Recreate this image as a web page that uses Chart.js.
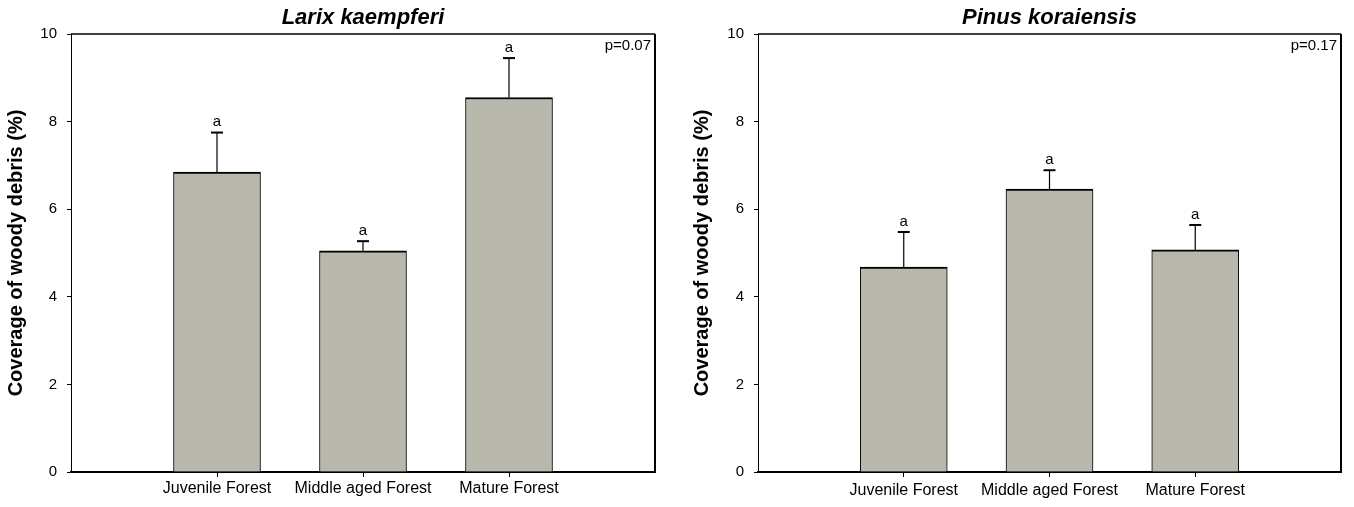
<!DOCTYPE html>
<html>
<head>
<meta charset="utf-8">
<script src="https://cdn.jsdelivr.net/npm/chart.js@4.4.1/dist/chart.umd.min.js"></script>
<style>
  body { margin: 0; background: #fff; }
  #wrap { position: relative; width: 1354px; height: 507px; }
  canvas { position: absolute; top: 0; }
</style>
</head>
<body>
<div id="wrap">
  <canvas id="left" width="680" height="507" style="left:0"></canvas>
  <canvas id="right" width="674" height="507" style="left:680px"></canvas>
</div>
<script>
// data
const categories = ['Juvenile Forest', 'Middle aged Forest', 'Mature Forest'];
const larixMeans = [6.85, 5.05, 8.55];
const larixErrors = [0.9, 0.22, 0.9];
const larixLetters = ['a', 'a', 'a'];
const pinusMeans = [4.68, 6.46, 5.07];
const pinusErrors = [0.8, 0.43, 0.57];
const pinusLetters = ['a', 'a', 'a'];
const yTicks = [0, 2, 4, 6, 8, 10];

const FONT = 'Arial, "Liberation Sans", sans-serif';
const BAR_COLOR = '#b8b8ac';

// empty slot at each end so bars sit at 1/4, 2/4, 3/4 of the axis
const xLabels = ['', ...categories, ''];

//标题 + 误差线 + 字母 + 边框
const extrasPlugin = {
  id: 'extras',
  afterDatasetsDraw(chart, args, opts) {
    const ctx = chart.ctx;
    const x = chart.scales.x;
    const y = chart.scales.y;
    const area = chart.chartArea;
    ctx.save();
    ctx.strokeStyle = '#000';
    ctx.fillStyle = '#000';
    // title, centred over the plot area
    ctx.font = 'italic bold 22px ' + FONT;
    ctx.textAlign = 'center';
    ctx.textBaseline = 'middle';
    ctx.fillText(opts.title, (area.left + area.right) / 2, 18);

    opts.means.forEach((m, i) => {
      const px = x.getPixelForValue(i + 1);
      const top = y.getPixelForValue(m + opts.errors[i]);
      const base = y.getPixelForValue(m);
      ctx.lineWidth = 1.2;
      ctx.beginPath();
      ctx.moveTo(px, base);
      ctx.lineTo(px, top);
      ctx.stroke();
      ctx.lineWidth = 2;
      ctx.beginPath();
      ctx.moveTo(px - 6, top);
      ctx.lineTo(px + 6, top);
      ctx.stroke();
      ctx.font = '15px ' + FONT;
      ctx.textAlign = 'center';
      ctx.textBaseline = 'bottom';
      ctx.fillText(opts.letters[i], px, top - 3);
    });
    // top and right frame
    ctx.lineWidth = 1.5;
    ctx.beginPath();
    ctx.moveTo(area.left, area.top);
    ctx.lineTo(area.right, area.top);
    ctx.stroke();
    ctx.lineWidth = 2;
    ctx.beginPath();
    ctx.moveTo(area.right, area.top);
    ctx.lineTo(area.right, area.bottom + 1);
    ctx.stroke();
    // p value
    ctx.font = '15px ' + FONT;
    ctx.textAlign = 'right';
    ctx.textBaseline = 'top';
    ctx.fillText(opts.pText, area.right - 4, area.top + 4);
    ctx.restore();
  }
};

function makePanel(id, title, means, errors, letters, pText, cfg) {
  return new Chart(document.getElementById(id), {
    type: 'bar',
    data: {
      labels: xLabels,
      datasets: [{
        data: [null, ...means, null],
        backgroundColor: BAR_COLOR,
        borderColor: '#000',
        borderWidth: { top: 2, left: 1, right: 1, bottom: 0 },
        borderSkipped: false,
        barThickness: 87
      }]
    },
    options: {
      responsive: false,
      animation: false,
      layout: { padding: { left: 0, right: cfg.padRight, top: 34, bottom: 0 } },
      plugins: {
        legend: { display: false },
        tooltip: { enabled: false },
        title: { display: false },
        extras: { title, means, errors, letters, pText }
      },
      scales: {
        x: {
          offset: false,
          grid: {
            offset: false,
            drawOnChartArea: false,
            tickLength: 5,
            tickColor: (c) => xLabels[c.index] ? '#000' : 'rgba(0,0,0,0)'
          },
          border: { color: '#000', width: 2 },
          ticks: {
            color: '#000',
            font: { family: FONT, size: 16 },
            padding: cfg.xPad,
            maxRotation: 0,
            autoSkip: false
          },
          afterFit: (s) => { s.height = 35; }
        },
        y: {
          min: 0,
          max: 10,
          afterBuildTicks: (s) => { s.ticks = yTicks.map(v => ({ value: v })); },
          grid: { drawOnChartArea: false, tickLength: 4, tickColor: '#000' },
          border: { color: '#000', width: 1 },
          ticks: { color: '#000', font: { family: FONT, size: 15 }, padding: 10 },
          title: {
            display: true,
            text: 'Coverage of woody debris (%)',
            color: '#000',
            font: { family: FONT, size: 20, weight: 'bold' },
            padding: { top: cfg.titlePad, bottom: 0 }
          },
          afterFit: (s) => { s.width = cfg.yWidth; }
        }
      }
    },
    plugins: [extrasPlugin]
  });
}

makePanel('left', 'Larix kaempferi', larixMeans, larixErrors, larixLetters, 'p=0.07',
  { padRight: 25, yWidth: 71, titlePad: 4, xPad: 2 });
makePanel('right', 'Pinus koraiensis', pinusMeans, pinusErrors, pinusLetters, 'p=0.17',
  { padRight: 13, yWidth: 78, titlePad: 10, xPad: 4 });
</script>
</body>
</html>
